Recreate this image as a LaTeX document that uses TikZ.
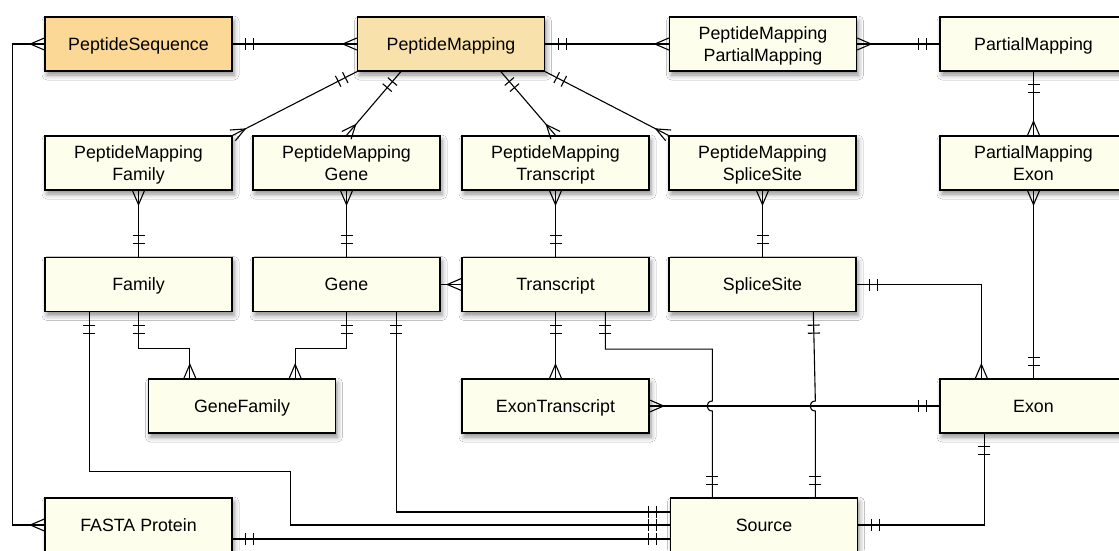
\documentclass[tikz,border=0pt]{standalone}
\usepackage{fontspec}
\setmainfont{Liberation Sans}
\usetikzlibrary{calc,shadows.blur}

\definecolor{seqfill}{RGB}{252,216,150}
\definecolor{mapfill}{RGB}{249,225,172}
\definecolor{cream}{RGB}{254,254,236}

% crow's foot: "many" end of a relationship
\pgfdeclarearrow{
  name = ERmany,
  parameters = {},
  setup code = {
    \pgfarrowssettipend{0pt}
    \pgfarrowssetlineend{0pt}
    \pgfarrowssetbackend{-14pt}
    \pgfarrowssetvisualbackend{-14pt}
    \pgfarrowsupperhullpoint{0pt}{6pt}
    \pgfarrowsupperhullpoint{-14pt}{0pt}
  },
  drawing code = {
    \pgfsetdash{}{0pt}
    \pgfpathmoveto{\pgfqpoint{0pt}{6pt}}
    \pgfpathlineto{\pgfqpoint{-14pt}{0pt}}
    \pgfpathlineto{\pgfqpoint{0pt}{-6pt}}
    \pgfusepathqstroke
  },
}

% two bars: "exactly one" end of a relationship
\pgfdeclarearrow{
  name = ERone,
  parameters = {},
  setup code = {
    \pgfarrowssettipend{0pt}
    \pgfarrowssetlineend{0pt}
    \pgfarrowssetbackend{-22pt}
    \pgfarrowssetvisualbackend{-22pt}
    \pgfarrowsupperhullpoint{0pt}{6pt}
    \pgfarrowsupperhullpoint{-22pt}{6pt}
  },
  drawing code = {
    \pgfsetdash{}{0pt}
    \pgfpathmoveto{\pgfqpoint{-13pt}{6pt}}
    \pgfpathlineto{\pgfqpoint{-13pt}{-6pt}}
    \pgfpathmoveto{\pgfqpoint{-21pt}{6pt}}
    \pgfpathlineto{\pgfqpoint{-21pt}{-6pt}}
    \pgfusepathqstroke
  },
}

\begin{document}
\begin{tikzpicture}[x=1pt,y=-1pt,
  entity/.style={draw=black, line width=1.3pt, fill=cream,
    minimum width=187pt, minimum height=54pt, inner sep=0pt,
    text depth=0pt,
    align=center, font=\fontsize{17.8}{21.5}\selectfont,
    blur shadow={shadow xshift=2pt, shadow yshift=-4pt,
      shadow blur radius=5pt, shadow opacity=45}},
  conn/.style={draw=black, line width=1.1pt},
  onemany/.style={conn, {ERone}-{ERmany}},
  manyone/.style={conn, {ERmany}-{ERone}},
  oneone/.style={conn, {ERone}-{ERone}},
  manymany/.style={conn, {ERmany}-{ERmany}},
]
\useasboundingbox (0,0) rectangle (1119,550);
\fill[white] (0,0) rectangle (1119,550);
\clip (0,0) rectangle (1119,550);

% ---- entities ----
\node[entity, fill=seqfill] (PS)   at (138.5,44) {PeptideSequence};
\node[entity, fill=mapfill] (PM)   at (451,44)   {PeptideMapping};
\node[entity]               (PMPM) at (763,44)   {PeptideMapping\\PartialMapping};
\node[entity]               (PaM)  at (1033.5,44)  {PartialMapping};

\node[entity] (PMF)  at (138.5,163) {PeptideMapping\\Family};
\node[entity] (PMG)  at (346.5,163) {PeptideMapping\\Gene};
\node[entity] (PMT)  at (555.5,163) {PeptideMapping\\Transcript};
\node[entity] (PMS)  at (762.5,163) {PeptideMapping\\SpliceSite};
\node[entity] (PaME) at (1033.5,163)  {PartialMapping\\Exon};

\node[entity] (Family)     at (138.5,284.5) {Family};
\node[entity] (Gene)       at (346.5,284.5) {Gene};
\node[entity] (Transcript) at (555.5,284.5) {Transcript};
\node[entity] (SpliceSite) at (762.5,284.5) {SpliceSite};

\node[entity] (GF)   at (242,406)   {GeneFamily};
\node[entity] (ET)   at (555.5,406) {ExonTranscript};
\node[entity] (Exon) at (1033.5,406)  {Exon};

\node[entity] (FASTA)  at (138.5,525) {FASTA Protein};
\node[entity] (Source) at (764,525)   {Source};

% ---- helper points on entity borders ----
\path ($(Source.north west)+(42.5,0)$)  coordinate (srcA)
      ($(Source.north west)+(145.5,0)$) coordinate (srcB)
      ($(Transcript.south)+(0,37)$)   coordinate (trBend);
\coordinate (hopA) at (srcA |- ET.east);
\coordinate (hopB) at (srcB |- ET.east);

% ---- top row ----
\draw[onemany] (PS.east) -- (PM.west);
\draw[onemany] (PM.east) -- (PMPM.west);
\draw[manyone] (PMPM.east) -- (PaM.west);
\draw[onemany] (PaM.south) -- (PaME.north);
\draw[manyone] (PaME.south) -- (Exon.north);

% ---- PeptideMapping fan-out ----
\draw[onemany] (PM.south west) -- (PMF.north east);
\draw[onemany] ($(PM.south west)+(44,0)$) -- (PMG.north);
\draw[onemany] ($(PM.south west)+(144,0)$) -- (PMT.north);
\draw[onemany] (PM.south east) -- (PMS.north west);

% ---- mapping tables to their entities ----
\draw[manyone] (PMF.south) -- (Family.north);
\draw[manyone] (PMG.south) -- (Gene.north);
\draw[manyone] (PMT.south) -- (Transcript.north);
\draw[manyone] (PMS.south) -- (SpliceSite.north);

\draw[conn, -{ERmany}] (Gene.east) -- (Transcript.west);

% ---- GeneFamily ----
\draw[onemany] (Family.south) |- ($(GF.north west)+(42,-30)$)
  -- ($(GF.north west)+(42,0)$);
\draw[onemany] (Gene.south) |- ($(GF.north east)+(-41,-30)$)
  -- ($(GF.north east)+(-41,0)$);

% ---- Source links ----
\draw[oneone] ($(Family.south west)+(45,0)$) -- ++(0,159.5)
  -| ($(Source.west)+(-379,0)$) -- (Source.west);
\draw[oneone] ($(Gene.south west)+(144,0)$) |- ($(Source.west)+(0,-13)$);
\draw[oneone] ($(FASTA.east)+(0,14)$) -- ($(Source.west)+(0,14)$);
% vertical links hop over the ExonTranscript--Exon line
\draw[oneone] ($(Transcript.south west)+(144,0)$)
  |- (trBend -| srcA) -- ($(hopA)+(0,-5)$)
  .. controls +(-7,0) and +(-7,0) .. ($(hopA)+(0,5)$) -- (srcA);
\draw[oneone] ($(SpliceSite.south west)+(145,0)$) -- ($(hopB)+(0,-5)$)
  .. controls +(-7,0) and +(-7,0) .. ($(hopB)+(0,5)$) -- (srcB);
\draw[oneone] ($(Exon.south west)+(45,0)$) |- (Source.east);

% ---- FASTA to sequence ----
\draw[manymany] (PS.west) -- ++(-32,0) |- (FASTA.west);

% ---- transcripts and exons ----
\draw[onemany] (Transcript.south) -- (ET.north);
\draw[manyone] (ET.east) -- (Exon.west);
\draw[onemany] (SpliceSite.east) -| ($(Exon.north west)+(42,0)$);
\end{tikzpicture}
\end{document}
